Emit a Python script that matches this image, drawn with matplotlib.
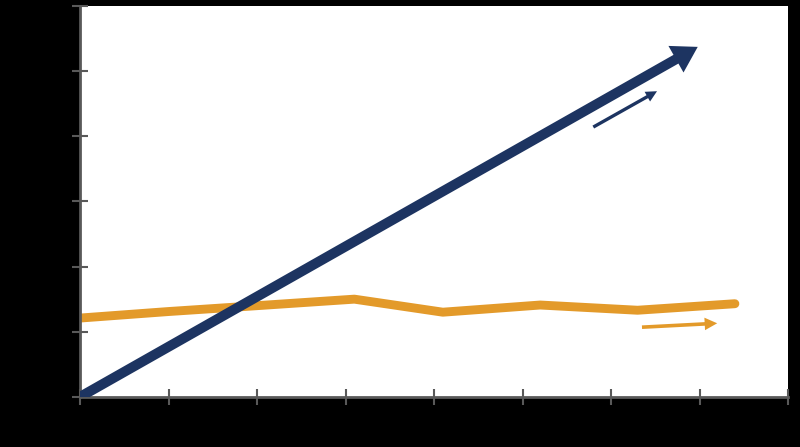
import matplotlib
matplotlib.use("Agg")
import matplotlib.pyplot as plt

# colours
navy = '#1d3461'
orange = '#e39a2a'
grey = '#595959'

# axis ranges / ticks
x_ticks = [0, 1, 2, 3, 4, 5, 6, 7, 8]
y_ticks = [0, 1, 2, 3, 4, 5, 6]

# orange series (flat-ish)
orange_x = [0, 1, 2, 3.1, 4.1, 5.2, 6.3, 7.4]
orange_y = [1.21, 1.31, 1.40, 1.50, 1.30, 1.41, 1.33, 1.43]

# navy trend arrow: start and end
navy_start = (0, 0)
navy_end = (6.98, 5.37)

# small hint arrows (tail, tip)
navy_hint = ((5.80, 4.14), (6.52, 4.69))
orange_hint = ((6.35, 1.07), (7.20, 1.13))

fig = plt.figure(figsize=(8, 4.47), dpi=100, facecolor='black')
ax = fig.add_axes([0.1, 0.112, 0.885, 0.875])
ax.set_facecolor('white')

ax.plot(orange_x, orange_y, color=orange, lw=6.4, solid_capstyle='round',
        solid_joinstyle='round', zorder=2)

big = ax.annotate('', xy=navy_end, xytext=navy_start,
                  arrowprops=dict(arrowstyle='simple,head_length=18,head_width=22,tail_width=7.2',
                                  mutation_scale=1, color=navy, lw=0,
                                  shrinkA=0, shrinkB=0), zorder=3)
big.arrow_patch.set_clip_box(ax.bbox)
big.arrow_patch.set_clip_on(True)

ax.annotate('', xy=navy_hint[1], xytext=navy_hint[0],
            arrowprops=dict(arrowstyle='simple,head_length=8,head_width=8,tail_width=2.4',
                            mutation_scale=1, color=navy, lw=0,
                            shrinkA=0, shrinkB=0), zorder=3)
ax.annotate('', xy=orange_hint[1], xytext=orange_hint[0],
            arrowprops=dict(arrowstyle='simple,head_length=9,head_width=9,tail_width=2.6',
                            mutation_scale=1, color=orange, lw=0,
                            shrinkA=0, shrinkB=0), zorder=3)

ax.set_xlim(0, 8)
ax.set_ylim(0, 6)
ax.set_xticks(x_ticks)
ax.set_yticks(y_ticks)
ax.set_xticklabels([])
ax.set_yticklabels([])
for s in ['top', 'right']:
    ax.spines[s].set_visible(False)
for s in ['left', 'bottom']:
    ax.spines[s].set_color(grey)
    ax.spines[s].set_linewidth(2)
ax.tick_params(direction='inout', length=11, width=1.5, color=grey)

fig.savefig('out.png', dpi=100, facecolor='black')
